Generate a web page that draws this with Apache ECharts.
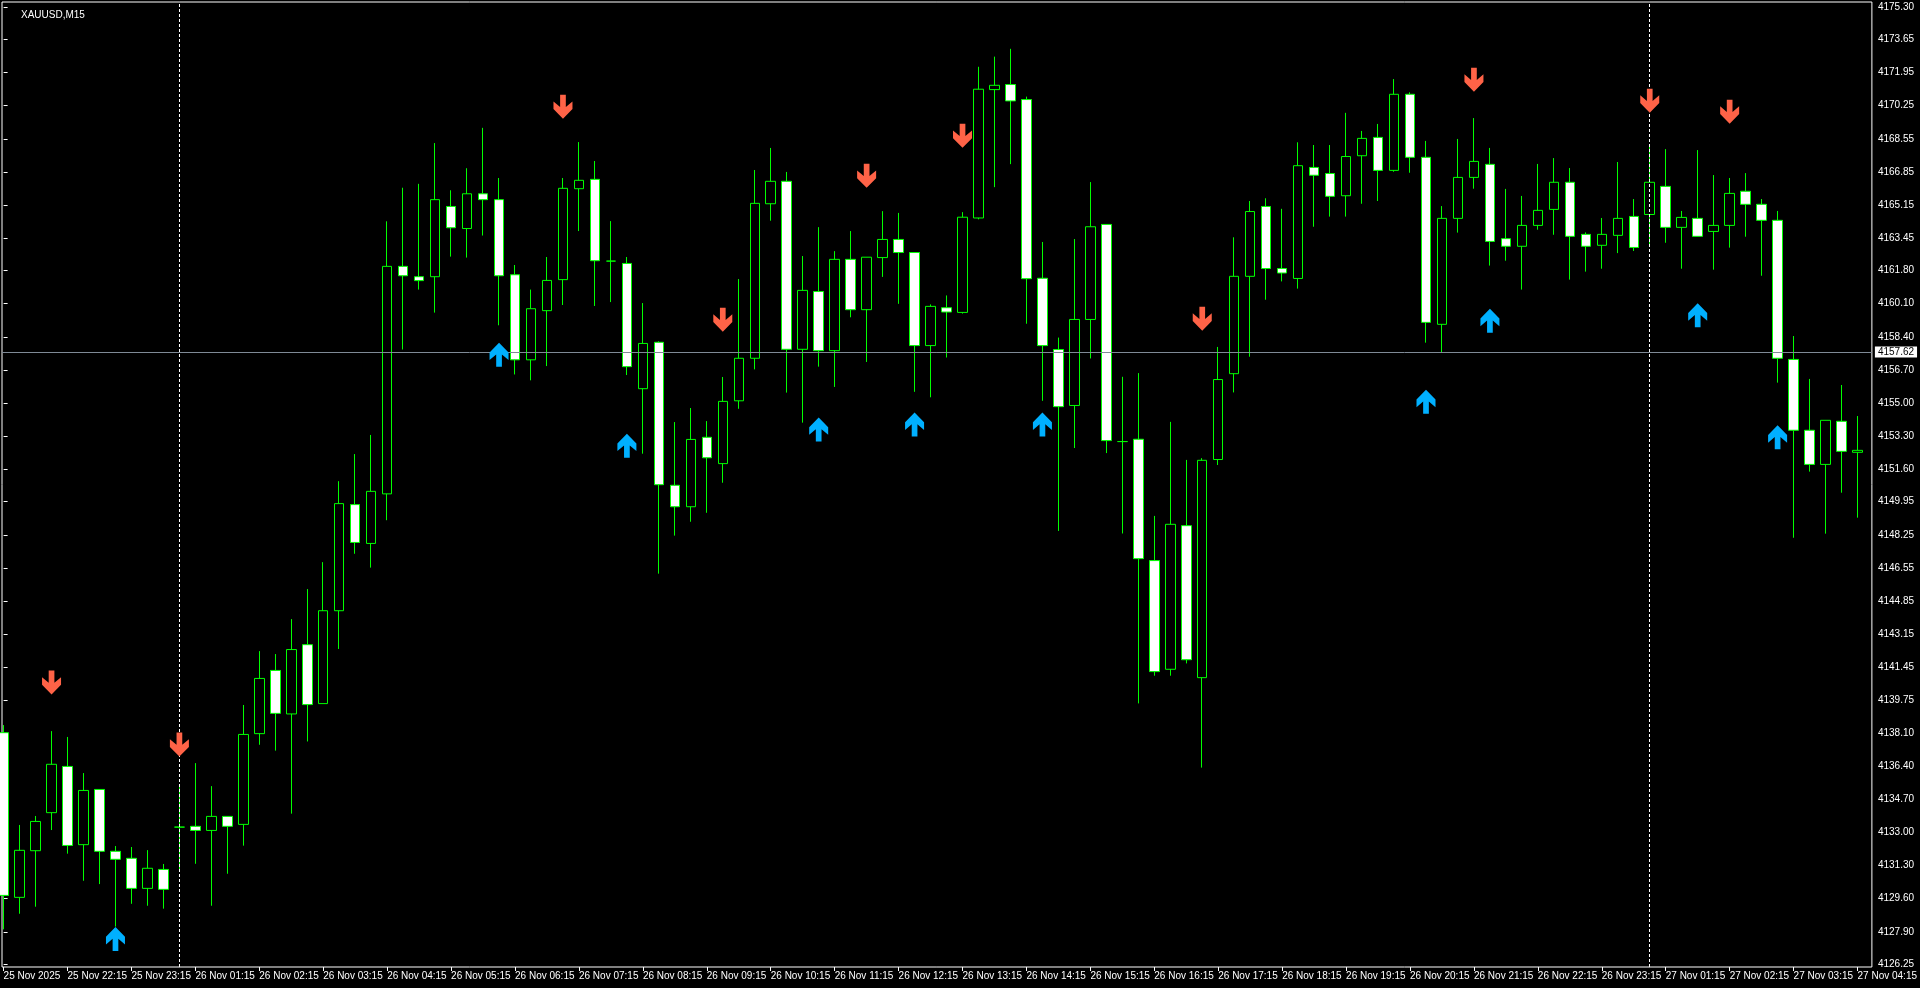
<!DOCTYPE html>
<html>
<head>
<meta charset="utf-8">
<script src="https://cdn.jsdelivr.net/npm/echarts@6/dist/echarts.min.js"></script>
<style>
html,body{margin:0;padding:0;background:#000;}
#chart{width:1920px;height:988px;}
</style>
</head>
<body>
<div id="chart"></div>
<script>
// ---- data (XAUUSD M15, bars indexed 0..116) ----
const opens = [4138.11,4129.67,4132.06,4134.01,4136.38,4132.37,4135.20,4132.03,4131.67,4130.13,4131.10,4133.27,4133.31,4133.10,4133.82,4133.41,4138.06,4141.30,4139.07,4142.62,4139.60,4144.36,4149.80,4147.81,4150.35,4162.01,4161.48,4161.48,4165.08,4163.95,4165.73,4165.43,4161.58,4157.22,4159.74,4161.33,4165.99,4166.47,4162.28,4162.16,4155.74,4158.12,4150.79,4149.69,4153.25,4151.90,4155.12,4157.30,4165.22,4166.37,4157.76,4160.72,4157.69,4162.37,4159.79,4162.46,4163.39,4162.72,4157.95,4159.89,4159.65,4164.49,4171.07,4171.33,4170.56,4161.40,4157.75,4154.88,4159.29,4164.16,4153.03,4153.15,4146.93,4141.36,4148.72,4140.93,4152.11,4156.51,4161.50,4165.08,4161.90,4161.39,4167.08,4166.77,4165.63,4167.68,4168.62,4166.93,4170.83,4167.60,4159.04,4164.47,4166.57,4167.24,4163.43,4163.04,4164.11,4164.93,4166.32,4163.65,4163.09,4163.60,4164.57,4164.67,4166.11,4164.01,4164.47,4163.80,4164.11,4165.86,4165.19,4164.37,4157.24,4153.61,4151.86,4154.07,4152.48];
const highs = [4138.50,4133.38,4133.84,4138.19,4137.89,4136.04,4135.20,4132.30,4132.25,4132.09,4131.38,4135.32,4136.55,4135.37,4133.82,4139.53,4142.29,4142.14,4143.93,4145.47,4146.85,4151.00,4152.39,4153.37,4164.32,4166.04,4166.24,4168.33,4165.91,4167.04,4169.11,4166.54,4162.08,4160.82,4162.49,4166.54,4168.38,4167.41,4164.33,4162.49,4160.13,4158.17,4154.03,4154.75,4154.08,4156.34,4161.36,4166.95,4168.08,4166.85,4162.54,4164.02,4162.79,4163.82,4162.48,4164.84,4164.75,4162.72,4160.06,4160.52,4164.79,4172.24,4172.76,4173.16,4170.71,4163.26,4158.36,4163.41,4166.33,4164.16,4156.35,4156.54,4149.22,4154.04,4152.09,4152.18,4157.88,4163.50,4165.36,4165.50,4164.96,4168.37,4168.23,4168.23,4169.88,4168.95,4169.31,4171.61,4170.93,4168.44,4165.10,4168.54,4169.61,4168.08,4165.98,4165.62,4167.26,4167.56,4167.05,4163.75,4164.49,4167.36,4165.46,4168.18,4168.02,4164.85,4167.97,4166.69,4166.54,4166.79,4165.46,4164.85,4158.44,4156.24,4154.12,4155.93,4154.34];
const lows = [4128.03,4128.83,4129.19,4133.12,4131.91,4130.52,4130.35,4128.17,4129.34,4129.24,4129.09,4131.09,4131.39,4129.24,4130.88,4132.32,4137.49,4137.19,4133.96,4137.66,4139.60,4142.40,4147.28,4146.57,4149.00,4157.75,4160.82,4159.64,4162.51,4162.46,4163.59,4158.99,4156.47,4156.17,4156.90,4160.03,4163.82,4159.98,4160.18,4156.44,4152.41,4146.26,4148.21,4148.92,4149.38,4150.92,4154.71,4156.73,4164.35,4155.54,4154.00,4156.87,4155.83,4159.40,4157.11,4161.47,4160.09,4155.58,4155.30,4157.34,4159.59,4164.42,4166.07,4167.25,4159.07,4155.12,4148.45,4152.70,4157.29,4152.44,4148.32,4139.61,4141.03,4141.03,4141.66,4136.32,4151.83,4155.55,4157.38,4160.30,4161.24,4160.87,4164.04,4164.56,4164.56,4165.22,4165.36,4166.86,4166.81,4158.10,4157.62,4163.74,4165.99,4162.05,4162.30,4160.82,4163.89,4163.63,4161.33,4161.74,4161.89,4162.69,4162.80,4163.02,4163.22,4161.89,4163.55,4161.84,4162.97,4163.53,4161.53,4156.05,4148.10,4151.49,4148.31,4150.41,4149.13];
const closes = [4129.77,4132.08,4133.56,4136.49,4132.33,4135.15,4132.03,4131.62,4130.13,4131.16,4130.08,4133.27,4133.10,4133.82,4133.31,4138.02,4140.89,4139.10,4142.37,4139.55,4144.36,4149.85,4147.86,4150.48,4162.01,4161.53,4161.28,4165.43,4163.99,4165.73,4165.43,4161.53,4157.22,4159.84,4161.29,4166.01,4166.42,4162.30,4162.28,4156.87,4158.06,4150.82,4149.69,4153.14,4152.20,4155.09,4157.30,4165.24,4166.37,4157.76,4160.78,4157.69,4162.37,4159.79,4162.48,4163.39,4162.72,4157.95,4159.96,4159.67,4164.53,4171.09,4171.29,4170.49,4161.38,4157.95,4154.82,4159.29,4164.04,4153.08,4153.03,4147.03,4141.24,4148.79,4141.85,4152.07,4156.21,4161.50,4164.82,4161.90,4161.67,4167.17,4166.68,4165.60,4167.64,4168.57,4166.93,4170.83,4167.60,4159.14,4164.47,4166.57,4167.39,4163.29,4163.04,4164.11,4164.88,4166.32,4163.55,4163.04,4163.65,4164.47,4162.98,4166.32,4164.01,4164.52,4163.55,4164.11,4165.75,4165.19,4164.37,4157.30,4153.61,4151.86,4154.12,4152.53,4152.58];

// time labels, one every 4 bars (bar index = 4 * position)
const timeLabels = ['25 Nov 2025','25 Nov 22:15','25 Nov 23:15','26 Nov 01:15','26 Nov 02:15','26 Nov 03:15','26 Nov 04:15','26 Nov 05:15','26 Nov 06:15','26 Nov 07:15','26 Nov 08:15','26 Nov 09:15','26 Nov 10:15','26 Nov 11:15','26 Nov 12:15','26 Nov 13:15','26 Nov 14:15','26 Nov 15:15','26 Nov 16:15','26 Nov 17:15','26 Nov 18:15','26 Nov 19:15','26 Nov 20:15','26 Nov 21:15','26 Nov 22:15','26 Nov 23:15','27 Nov 01:15','27 Nov 02:15','27 Nov 03:15','27 Nov 04:15'];
const labelStep = 4;
const priceTicks = [4175.30,4173.65,4171.95,4170.25,4168.55,4166.85,4165.15,4163.45,4161.80,4160.10,4158.40,4156.70,4155.00,4153.30,4151.60,4149.95,4148.25,4146.55,4144.85,4143.15,4141.45,4139.75,4138.10,4136.40,4134.70,4133.00,4131.30,4129.60,4127.90,4126.25];
const priceMin = 4126.10, priceMax = 4175.56;
const currentPrice = 4157.62;
const daySeparators = [11, 103];
// arrow signals: [bar index, price]
const sellArrows = [[3,4140.68],[11,4137.50],[35,4170.19],[45,4159.28],[54,4166.65],[60,4168.70],[75,4159.33],[92,4171.58],[103,4170.50],[108,4169.94]];
const buyArrows = [[7,4127.53],[31,4157.48],[39,4152.82],[51,4153.65],[57,4153.90],[65,4153.90],[89,4155.07],[93,4159.22],[106,4159.50],[111,4153.25]];

// ---- build ----
const candleData = opens.map((o, i) => [i, o, closes[i], lows[i], highs[i]]);
const labelIdx = timeLabels.map((_, k) => k * labelStep);
const FONT = 'Liberation Sans, Arial, sans-serif';
const downPath = 'path://M7,0 L13,0 L13,12 L20,6.5 L20,14 L10,23.5 L0,14 L0,6.5 L7,12 Z';
const upPath = 'path://M7,23.5 L13,23.5 L13,11.5 L20,17 L20,9.5 L10,0 L0,9.5 L0,17 L7,11.5 Z';

const chart = echarts.init(document.getElementById('chart'));
chart.setOption({
  animation: false,
  backgroundColor: '#000',
  title: {
    text: 'XAUUSD,M15', left: 16, top: 5,
    textStyle: {color: '#fff', fontSize: 10, fontWeight: 'normal', fontFamily: FONT}
  },
  grid: {left: 2, right: 46, top: 2, bottom: 21, show: true, borderColor: '#fff', borderWidth: 1, backgroundColor: '#000'},
  xAxis: {
    type: 'value', min: -0.1, max: labelIdx[labelIdx.length - 1] + 0.9,
    splitLine: {show: false},
    axisLine: {show: false},
    axisTick: {show: true, length: 4, inside: false, lineStyle: {color: '#fff'}, customValues: labelIdx},
    axisLabel: {
      show: true, customValues: labelIdx, color: '#fff', fontSize: 10, fontFamily: FONT,
      align: 'left', margin: 4,
      formatter: v => timeLabels[Math.round(v / labelStep)] || ''
    }
  },
  yAxis: {
    type: 'value', position: 'right', min: priceMin, max: priceMax, scale: true,
    splitLine: {show: false},
    axisLine: {show: false},
    axisTick: {show: true, length: 4, inside: false, lineStyle: {color: '#fff'}, customValues: priceTicks},
    axisLabel: {
      show: true, customValues: priceTicks, color: '#fff', fontSize: 10, fontFamily: FONT,
      margin: 6, formatter: v => Number(v).toFixed(2)
    }
  },
  series: [
    {
      type: 'candlestick',
      data: candleData,
      encode: {x: 0, y: [1, 2, 3, 4]},
      barWidth: 10,
      itemStyle: {
        color: '#000000', color0: '#ffffff',
        borderColor: '#00ff00', borderColor0: '#00ff00', borderColorDoji: '#00ff00',
        borderWidth: 1
      },
      markLine: {
        silent: true, symbol: ['none', 'none'], animation: false,
        data: [
          ...daySeparators.map(d => ({xAxis: d, lineStyle: {color: '#ffffff', type: [3, 2], width: 1, opacity: 1}, label: {show: false}})),
          {yAxis: currentPrice, lineStyle: {color: '#7f8a96', type: 'solid', width: 1, opacity: 1},
           label: {show: true, position: 'end', distance: 3, formatter: currentPrice.toFixed(2),
                   backgroundColor: '#ffffff', color: '#000', fontSize: 10, fontFamily: FONT, padding: [1, 3, 0, 3]}}
        ]
      }
    },
    {
      type: 'scatter', data: sellArrows, symbol: downPath, symbolSize: [19, 24],
      itemStyle: {color: '#ff6347', opacity: 1}, z: 5, silent: true
    },
    {
      type: 'scatter', data: buyArrows, symbol: upPath, symbolSize: [19, 24],
      itemStyle: {color: '#00b0ff', opacity: 1}, z: 5, silent: true
    }
  ]
});
</script>
</body>
</html>
